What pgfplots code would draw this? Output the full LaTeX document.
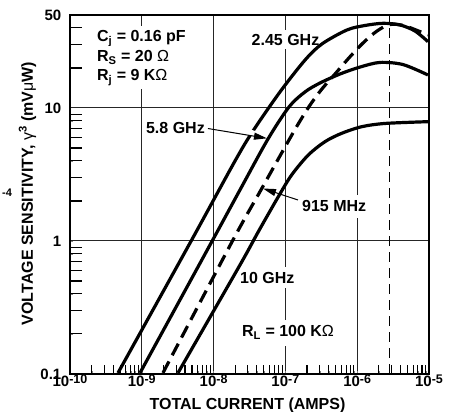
\documentclass[border=0pt]{standalone}
\usepackage{fontspec}
\setmainfont{Liberation Sans}
\usepackage{pgfplots}
\pgfplotsset{compat=1.18}
\usetikzlibrary{arrows.meta}
\newcommand\lbl{\fontsize{16}{19}\selectfont\bfseries}
\newcommand\tkl{\fontsize{15}{17}\selectfont\bfseries}
\newcommand\sups[1]{\raisebox{3.5pt}{\fontsize{12.5}{12.5}\selectfont #1}}
\begin{document}
\begin{tikzpicture}
\begin{axis}[
    at={(0,0)}, anchor=south west,
    width=359pt, height=359pt, scale only axis,
    xmode=log, ymode=log,
    xmin=1e-10, xmax=1e-5, ymin=0.1, ymax=50,
    xtick={1e-10,1e-9,1e-8,1e-7,1e-6,1e-5},
    xticklabels={10\sups{-10},10\sups{-9},10\sups{-8},10\sups{-7},10\sups{-6},10\sups{-5}},
    ytick={0.1,1,10}, yticklabels={0.1,1,10},
    extra y ticks={50}, extra y tick labels={50},
    extra y tick style={grid=none},
    xtick pos=bottom, ytick pos=left,
    major tick length=0pt, minor tick num=0,
    axis line style={line width=1.1pt},
    xmajorgrids, ymajorgrids,
    major grid style={line width=1pt, black!85},
    xticklabel style={font=\tkl, anchor=base, yshift=-13pt, inner sep=0pt},
    yticklabel style={font=\tkl, anchor=east, inner sep=0pt, xshift=-8.5pt},
]
% labels first, so that their white boxes break the grid lines
\node[fill=white, inner xsep=2pt, inner ysep=4pt, anchor=base west, font=\lbl] at (rel axis cs:0.0696,0.9262) {C\textsubscript{j} = 0.16 pF};
\node[fill=white, inner xsep=2pt, inner ysep=4pt, anchor=base west, font=\lbl] at (rel axis cs:0.0696,0.8705) {R\textsubscript{S} = 20 {\mdseries Ω}};
\node[fill=white, inner xsep=2pt, inner ysep=4pt, anchor=base west, font=\lbl] at (rel axis cs:0.0696,0.8175) {R\textsubscript{j} = 9 K{\mdseries Ω}};
\node[fill=white, inner xsep=1.5pt, inner ysep=4pt, anchor=base west, font=\lbl] at (rel axis cs:0.5014,0.9164) {2.45 GHz};
\node[fill=white, inner xsep=2pt, inner ysep=4pt, anchor=base east, font=\lbl] at (rel axis cs:0.3816,0.6705) {5.8 GHz};
\node[fill=white, inner xsep=2pt, inner ysep=6pt, anchor=base west, font=\lbl] at (rel axis cs:0.6407,0.4521) {915 MHz};
\node[fill=white, inner xsep=2pt, inner ysep=5pt, anchor=base west, font=\lbl] at (rel axis cs:0.4680,0.2526) {10 GHz};
\node[fill=white, inner xsep=2pt, inner ysep=6pt, anchor=base west, font=\lbl] at (rel axis cs:0.4735,0.1031) {R\textsubscript{L} = 100 K{\mdseries Ω}};

% bias line
\addplot[black, line width=1pt, dash pattern=on 10pt off 6pt] coordinates {(2.86e-6,0.1) (2.86e-6,50)};

% 2.45 GHz
\addplot[black, line width=3.2pt, smooth] coordinates {
(4.66e-10,0.1018) (4.95e-9,1.017) (1.99e-8,4.00) (3.54e-8,6.72) (8.41e-8,13.2)
(1.875e-7,22.9) (3.23e-7,30.3) (7.21e-7,38.6) (1.285e-6,41.7) (2.29e-6,43.3)
(3.94e-6,42.1) (6.38e-6,37.9) (9.68e-6,31.5)};
% 5.8 GHz
\addplot[black, line width=3.2pt, smooth] coordinates {
(9.44e-10,0.1018) (9.72e-9,1.017) (2.33e-8,2.42) (5.73e-8,5.85) (1.122e-7,10.17)
(1.875e-7,13.2) (3.03e-7,15.4) (5.76e-7,18.0) (1.094e-6,20.3) (2.08e-6,22.0)
(4.35e-6,21.2) (9.68e-6,17.7)};
% 915 MHz
\addplot[black, line width=3.2pt, smooth, dash pattern=on 13pt off 7pt] coordinates {
(1.97e-9,0.1018) (1.862e-8,1.017) (4.57e-8,2.42) (8.41e-8,4.36) (1.452e-7,7.32)
(2.20e-7,10.5) (3.23e-7,13.9) (4.91e-7,18.0) (7.69e-7,23.8) (1.205e-6,30.8)
(1.888e-6,37.9) (2.86e-6,42.4) (4.63e-6,41.4) (9.68e-6,35.4)};
% 10 GHz
\addplot[black, line width=3.2pt, smooth] coordinates {
(3.19e-9,0.1018) (2.33e-8,0.660) (4.20e-8,1.175) (7.96e-8,2.15) (1.224e-7,3.14)
(2.085e-7,4.43) (3.56e-7,5.58) (6.08e-7,6.45) (1.156e-6,7.23) (2.44e-6,7.65)
(9.68e-6,7.89)};

% arrows
\draw[white, line width=6pt] (rel axis cs:0.4986,0.6741) -- (rel axis cs:0.5348,0.6610);
\draw[black, line width=1pt, -{Triangle[length=13pt,width=7pt]}] (rel axis cs:0.3844,0.6838) -- (rel axis cs:0.5487,0.6565);
\draw[black, line width=1pt, -{Triangle[length=13pt,width=7pt]}] (rel axis cs:0.6351,0.4847) -- (rel axis cs:0.5376,0.5167);
\end{axis}
% inward minor ticks, drawn on the canvas (axis box: 359pt x 359pt from the origin)
\foreach \d in {0,1,2,3,4}{
  \foreach \m in {2,3,4,5,6,7,8,9}{
    \draw[black, line width=1.1pt] ({71.8*(\d+log10(\m))*1pt},0pt) -- ({71.8*(\d+log10(\m))*1pt},9pt);
  }
}
\foreach \v in {0.2,0.3,0.4,0.5,0.6,0.7,0.8,0.9,2,3,4,5,6,7,8,9,20,40}{
  \draw[black, line width=1.1pt] (0pt,{133.0*(1+log10(\v))*1pt}) -- (12pt,{133.0*(1+log10(\v))*1pt});
}
\draw[black, line width=1.9pt] (0pt,{133.0*(1+log10(30))*1pt}) -- (12pt,{133.0*(1+log10(30))*1pt});
\node[font=\lbl, anchor=base] at (177.5pt,-36pt) {TOTAL CURRENT (AMPS)};
\node[font=\lbl, anchor=base, rotate=90] at (-37pt,180.5pt) {VOLTAGE SENSITIVITY, {\mdseries γ}\textsuperscript{3} (mV{\mdseries μ}W)};
\node[font=\fontsize{11}{11}\selectfont\bfseries, anchor=base west, inner sep=0pt] at (-68pt,177pt) {-4};
\pgfresetboundingbox
\path (-70pt,-38pt) rectangle (381pt,374pt);
\end{tikzpicture}
\end{document}
